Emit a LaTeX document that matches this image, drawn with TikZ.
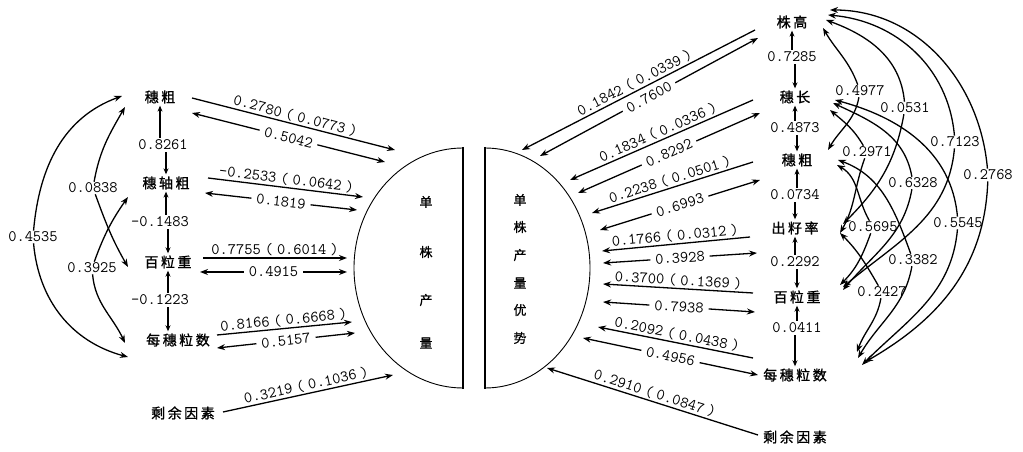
\documentclass[tikz,border=0pt]{standalone}
\usepackage{fontspec}
\newfontfamily\cjk[LetterSpace=18,FakeBold=1.2]{Noto Sans CJK SC}
\newfontfamily\cjkshape[FakeBold=0.8]{Noto Sans CJK SC}
\usetikzlibrary{arrows.meta}
\newcommand{\pq}[2]{#1\hspace{4pt}(\hspace{4pt}#2\hspace{4pt})}
\tikzset{
  tr/.style={font=\cjk\fontsize{14}{14}\selectfont, inner sep=1pt},
  nm/.style={font=\ttfamily\addfontfeatures{FakeBold=0.8}\fontsize{16}{16}\selectfont, inner sep=1pt},
  pl/.style={nm, sloped, above, inner sep=1.5pt},
  cl/.style={nm, sloped, fill=white, inner xsep=5pt, inner ysep=1pt},
  tip/.tip={Stealth[length=8pt,width=6pt]},
  ar/.style={line width=1.3pt, -tip},
  ra/.style={line width=1.3pt, tip-},
  dar/.style={line width=1.3pt, tip-tip},
  vr/.style={line width=1.3pt, -{Stealth[length=6pt,width=5pt]}, shorten >=1pt, shorten <=1pt},
  sh/.style={font=\cjkshape\fontsize{13}{13}\selectfont, inner sep=0pt},
}
\begin{document}
\begin{tikzpicture}[x=1pt,y=1pt]
\useasboundingbox (0,0) rectangle (1023,452);

% ---------------- left block ----------------
\node[tr] (L1) at (160,355) {穗粗};
\node[tr] (L2) at (166,269) {穗轴粗};
\node[tr] (L3) at (168,190) {百粒重};
\node[tr] (L4) at (178,112) {每穗粒数};
\node[tr] (LR) at (183,39) {剩余因素};

\node[nm] (l12) at (163,307) {0.8261};
\node[nm] (l23) at (160,230) {\textendash0.1483};
\node[nm] (l34) at (160,152) {\textendash0.1223};

\draw[vr] (L1.south |- l12.north) -- (L1.south);
\draw[vr] (L2.north |- l12.south) -- (L2.north);
\draw[vr] (L2.south |- l23.north) -- (L2.south);
\draw[vr] (L3.north |- l23.south) -- (L3.north);
\draw[vr] (L3.south |- l34.north) -- (L3.south);
\draw[vr] (L3.south |- l34.south) -- (L3.south |- L4.north);

% left correlation arcs
\coordinate (a1u) at (122,356);
\coordinate (a1d) at (128,95);
\coordinate (a2u) at (125,345);
\coordinate (a2d) at (128,185);
\coordinate (a3u) at (128,255);
\coordinate (a3d) at (125,109);
\node[nm] (a1) at (33,215) {0.4535};
\node[nm] (a2) at (93,264) {0.0838};
\node[nm] (a3) at (92,184) {0.3925};
\draw[ar] (a1) to[out=85,in=200] (a1u);
\draw[ar] (a1) to[out=-85,in=165] (a1d);
\draw[ar] (a2) to[out=80,in=240] (a2u);
\draw[ar] (a2) to[out=-70,in=120] (a2d);
\draw[ar] (a3) to[out=70,in=235] (a3u);
\draw[ar] (a3) to[out=-85,in=115] (a3d);

% left shape
\draw[line width=0.9pt] (463,304) arc[start angle=90,end angle=270,x radius=109,y radius=120];
\draw[line width=2pt] (463,305) -- (463,63);
\node[sh] (S1a) at (426,250) {单};
\node[sh] (S1b) at (426,200) {株};
\node[sh] (S1c) at (426,152) {产};
\node[sh] (S1d) at (426,109) {量};

% left path and correlation lines
\coordinate (p1s) at (192,354); \coordinate (p1e) at (395,302);
\coordinate (c1s) at (192,339); \coordinate (c1e) at (385,290);
\coordinate (p2s) at (208,274); \coordinate (p2e) at (363,255);
\coordinate (c2s) at (205,259); \coordinate (c2e) at (357,242);
\coordinate (p3s) at (203,194); \coordinate (p3e) at (347,194);
\coordinate (c3s) at (200,180); \coordinate (c3e) at (347,180);
\coordinate (p4s) at (217,117); \coordinate (p4e) at (352,130);
\coordinate (c4s) at (217,104); \coordinate (c4e) at (355,119);
\coordinate (p5s) at (223,40);  \coordinate (p5e) at (393,77);

\draw[ar] (p1s) -- node[pl]{\pq{0.2780}{0.0773}} (p1e);
\draw[dar] (c1s) -- node[cl]{0.5042} (c1e);
\draw[ar] (p2s) -- node[pl]{\pq{\textendash0.2533}{0.0642}} (p2e);
\draw[dar] (c2s) -- node[cl]{0.1819} (c2e);
\draw[ar] (p3s) -- node[pl]{\pq{0.7755}{0.6014}} (p3e);
\draw[dar] (c3s) -- node[cl]{0.4915} (c3e);
\draw[ar] (p4s) -- node[pl]{\pq{0.8166}{0.6668}} (p4e);
\draw[dar] (c4s) -- node[cl]{0.5157} (c4e);
\draw[ar] (p5s) -- node[pl]{\pq{0.3219}{0.1036}} (p5e);

% ---------------- right block ----------------
\draw[line width=0.9pt] (485,304) arc[start angle=90,end angle=-90,x radius=105,y radius=120];
\draw[line width=2pt] (485,305) -- (485,63);
\node[sh] (S2a) at (520,252) {单};
\node[sh] (S2b) at (520,225) {株};
\node[sh] (S2c) at (520,197) {产};
\node[sh] (S2d) at (520,169) {量};
\node[sh] (S2e) at (520,142) {优};
\node[sh] (S2f) at (520,114) {势};

\node[tr] (R1) at (792,430) {株高};
\node[tr] (R2) at (795,355) {穗长};
\node[tr] (R3) at (797,292) {穗粗};
\node[tr] (R4) at (795,224) {出籽率};
\node[tr] (R5) at (797,155) {百粒重};
\node[tr] (R6) at (795,77) {每穗粒数};
\node[tr] (RR) at (795,15) {剩余因素};

\node[nm] (r12) at (792,395) {0.7285};
\node[nm] (r23) at (795,324) {0.4873};
\node[nm] (r34) at (795,257) {0.0734};
\node[nm] (r45) at (795,190) {0.2292};
\node[nm] (r56) at (797,124) {0.0411};

\draw[vr] (R1.south |- r12.north) -- (R1.south);
\draw[vr] (R2.north |- r12.south) -- (R2.north);
\draw[vr] (R2.south |- r23.north) -- (R2.south);
\draw[vr] (R3.north |- r23.south) -- (R3.north);
\draw[vr] (R3.south |- r34.north) -- (R3.south);
\draw[vr] (R4.north |- r34.south) -- (R4.north);
\draw[vr] (R4.south |- r45.north) -- (R4.south);
\draw[vr] (R5.north |- r45.south) -- (R5.north);
\draw[vr] (R5.south |- r56.north) -- (R5.south);
\draw[vr] (R6.north |- r56.south) -- (R6.north);

% right path and correlation lines (shape end first)
\coordinate (q1s) at (522,302); \coordinate (q1e) at (755,422);
\coordinate (d1s) at (540,296); \coordinate (d1e) at (758,414);
\coordinate (q2s) at (570,272); \coordinate (q2e) at (753,352);
\coordinate (d2s) at (578,259); \coordinate (d2e) at (760,339);
\coordinate (q3s) at (592,239); \coordinate (q3e) at (753,290);
\coordinate (d3s) at (600,222); \coordinate (d3e) at (760,272);
\coordinate (q4s) at (602,201); \coordinate (q4e) at (750,215);
\coordinate (d4s) at (603,189); \coordinate (d4e) at (757,199);
\coordinate (q5s) at (603,168); \coordinate (q5e) at (753,159);
\coordinate (d5s) at (603,150); \coordinate (d5e) at (755,140);
\coordinate (q6s) at (598,125); \coordinate (q6e) at (753,94);
\coordinate (d6s) at (583,114); \coordinate (d6e) at (758,77);
\coordinate (q7s) at (547,84);  \coordinate (q7e) at (758,17);

\draw[ra] (q1s) -- node[pl]{\pq{0.1842}{0.0339}} (q1e);
\draw[dar] (d1s) -- node[cl]{0.7600} (d1e);
\draw[ra] (q2s) -- node[pl]{\pq{0.1834}{0.0336}} (q2e);
\draw[dar] (d2s) -- node[cl]{0.8292} (d2e);
\draw[ra] (q3s) -- node[pl]{\pq{0.2238}{0.0501}} (q3e);
\draw[dar] (d3s) -- node[cl]{0.6993} (d3e);
\draw[ra] (q4s) -- node[pl]{\pq{0.1766}{0.0312}} (q4e);
\draw[dar] (d4s) -- node[cl]{0.3928} (d4e);
\draw[ra] (q5s) -- node[pl]{\pq{0.3700}{0.1369}} (q5e);
\draw[dar] (d5s) -- node[cl]{0.7938} (d5e);
\draw[ra] (q6s) -- node[pl]{\pq{0.2092}{0.0438}} (q6e);
\draw[dar] (d6s) -- node[cl]{0.4956} (d6e);
\draw[ra] (q7s) -- node[pl]{\pq{0.2910}{0.0847}} (q7e);

% right correlation arcs
\node[nm] (b1) at (860,361) {0.4977};
\node[nm] (b2) at (905,344) {0.0531};
\node[nm] (b3) at (955,310) {0.7123};
\node[nm] (b4) at (988,277) {0.2768};
\node[nm] (b5) at (867,300) {0.2971};
\node[nm] (b6) at (913,269) {0.6328};
\node[nm] (b7) at (958,229) {0.5545};
\node[nm] (b8) at (873,225) {0.5695};
\node[nm] (b9) at (913,192) {0.3382};
\node[nm] (b10) at (882,160) {0.2427};

\coordinate (e1a) at (823,424); \coordinate (e1b) at (828,302);
\coordinate (e2a) at (826,432); \coordinate (e2b) at (843,228);
\coordinate (e3a) at (828,437); \coordinate (e3b) at (843,165);
\coordinate (e4a) at (830,442); \coordinate (e4b) at (865,90);
\coordinate (e5a) at (830,342); \coordinate (e5b) at (840,219);
\coordinate (e6a) at (833,349); \coordinate (e6b) at (843,162);
\coordinate (e7a) at (835,352); \coordinate (e7b) at (862,87);
\coordinate (e8a) at (837,287); \coordinate (e8b) at (840,167);
\coordinate (e9a) at (838,292); \coordinate (e9b) at (858,94);
\coordinate (e10a) at (840,219); \coordinate (e10b) at (857,100);

\draw[ar] (b1) to[out=110,in=-60] (e1a);
\draw[ar] (b1) to[out=-100,in=60] (e1b);
\draw[ar] (b2) to[out=95,in=-20] (e2a);
\draw[ar] (b2) to[out=-100,in=45] (e2b);
\draw[ar] (b3) to[out=95,in=-5] (e3a);
\draw[ar] (b3) to[out=-95,in=40] (e3b);
\draw[ar] (b4) to[out=95,in=0] (e4a);
\draw[ar] (b4) to[out=-92,in=30] (e4b);
\draw[ar] (b5) to[out=120,in=-40] (e5a);
\draw[ar] (b5) to[out=-110,in=60] (e5b);
\draw[ar] (b6) to[out=100,in=-25] (e6a);
\draw[ar] (b6) to[out=-100,in=50] (e6b);
\draw[ar] (b7) to[out=95,in=-15] (e7a);
\draw[ar] (b7) to[out=-95,in=45] (e7b);
\draw[ar] (b8) to[out=120,in=-30] (e8a);
\draw[ar] (b8) to[out=-110,in=45] (e8b);
\draw[ar] (b9) to[out=110,in=-20] (e9a);
\draw[ar] (b9) to[out=-100,in=60] (e9b);
\draw[ar] (b10) to[out=120,in=-45] (e10a);
\draw[ar] (b10) to[out=-100,in=70] (e10b);
\end{tikzpicture}
\end{document}
